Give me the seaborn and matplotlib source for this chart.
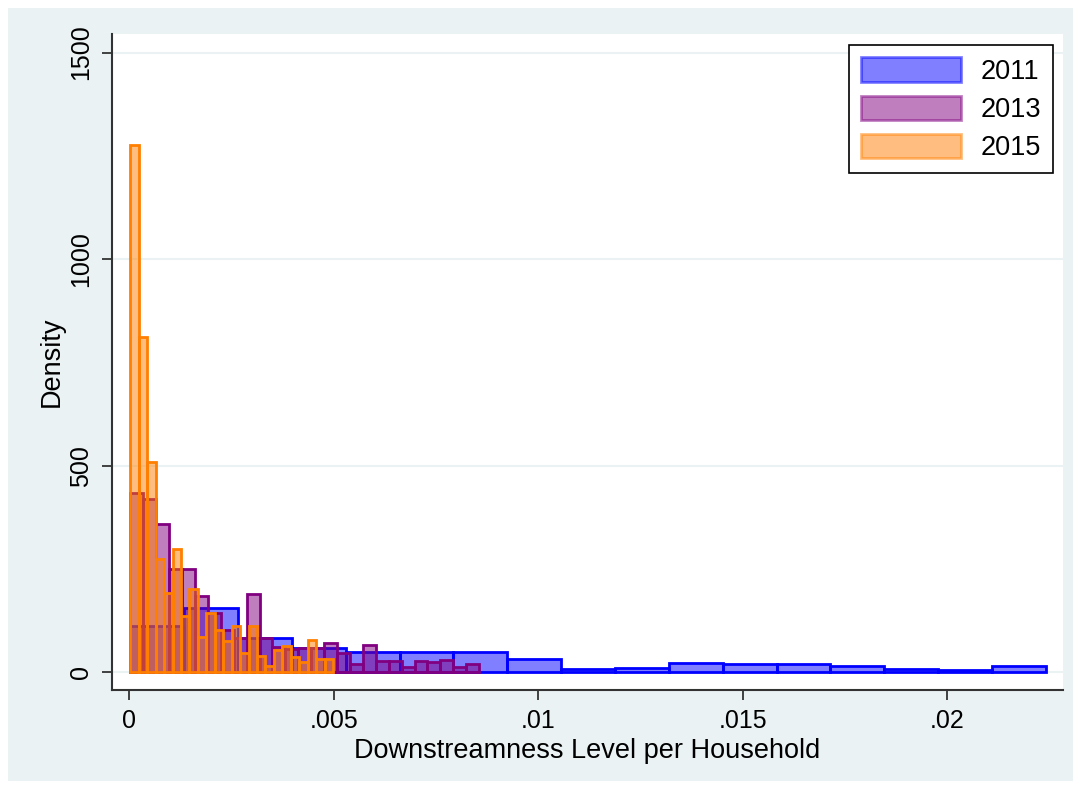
import numpy as np
import pandas as pd
import matplotlib.pyplot as plt
import seaborn as sns
from matplotlib.patches import Patch, Rectangle

# Histogram densities (Stata style, one bar per bin)
years = ["2011", "2013", "2015"]

start_2011 = 0.00002
width_2011 = 0.001317
dens_2011 = [111, 155, 83, 58, 48, 50, 49, 31, 7, 10, 22, 20, 20, 15, 8, 5, 15]

start_2013 = 0.00002
width_2013 = 0.000316
dens_2013 = [433, 419, 358, 249, 249, 184, 144, 103, 84, 189, 84, 61, 56, 58,
             58, 71, 47, 19, 67, 27, 27, 13, 27, 25, 29, 13, 21]

start_2015 = 0.00002
width_2015 = 0.0002066
dens_2015 = [1276, 812, 509, 275, 193, 298, 136, 201, 85, 144, 103, 75, 111,
             47, 111, 39, 15, 53, 64, 37, 25, 79, 31, 31]

x_ticks = [0, 0.005, 0.01, 0.015, 0.02]
x_tick_labels = ["0", ".005", ".01", ".015", ".02"]
y_ticks = [0, 500, 1000, 1500]

colors = {"2011": "#0000ff", "2013": "#800080", "2015": "#ff7f00"}

# build one table of bins
rows = []
for year, start, width, dens in [("2011", start_2011, width_2011, dens_2011),
                                 ("2013", start_2013, width_2013, dens_2013),
                                 ("2015", start_2015, width_2015, dens_2015)]:
    for i, d in enumerate(dens):
        rows.append({"year": year, "center": start + (i + 0.5) * width,
                     "density": d, "start": start, "width": width, "n": len(dens)})
df = pd.DataFrame(rows)

bg = "#eaf2f3"
fig = plt.figure(figsize=(10.81, 7.89), dpi=100, facecolor="white")
# light graph region inside a thin white border
fig.patches.append(Rectangle((8 / 1081, 8 / 789), 1065 / 1081, 773 / 789,
                             transform=fig.transFigure, facecolor=bg,
                             edgecolor="none", zorder=-10))
ax = fig.add_axes([111.5 / 1081, 1 - 690 / 789, (1063 - 111.5) / 1081, (690 - 34) / 789])
ax.set_facecolor("white")

font = ["Liberation Sans", "DejaVu Sans"]

for year in years:
    sub = df[df["year"] == year]
    start = sub["start"].iloc[0]
    width = sub["width"].iloc[0]
    edges = list(start + width * np.arange(sub["n"].iloc[0] + 1))
    sns.histplot(data=sub, x="center", weights="density", bins=edges, stat="count",
                 color=colors[year], edgecolor=colors[year], alpha=0.5,
                 linewidth=2.0, ax=ax)

ax.set_xlim(-0.00044, 0.02283)
ax.set_ylim(-43, 1545)

ax.set_yticks(y_ticks)
ax.set_yticklabels([str(t) for t in y_ticks], rotation=90, va="center",
                   fontsize=18, family=font)
ax.set_xticks(x_ticks)
ax.set_xticklabels(x_tick_labels, fontsize=18, family=font)

ax.grid(axis="y", color=bg, linewidth=1.5)
ax.set_axisbelow(True)
ax.tick_params(axis="both", direction="out", length=7.5, width=1.3, color="#333333", pad=6)

for side in ["top", "right"]:
    ax.spines[side].set_visible(False)
for side in ["left", "bottom"]:
    ax.spines[side].set_color("#333333")
    ax.spines[side].set_linewidth(1.5)

ax.set_xlabel("Downstreamness Level per Household", fontsize=19.5, family=font, labelpad=4)
ax.set_ylabel("Density", fontsize=19.5, family=font, labelpad=3)

handles = [Patch(facecolor=colors[y], edgecolor=colors[y], alpha=0.5, linewidth=2.0)
           for y in years]
leg = ax.legend(handles, years, loc="upper right", bbox_to_anchor=(0.9895, 0.983),
                prop={"family": font, "size": 19.5},
                frameon=True, fancybox=False, edgecolor="black", framealpha=1,
                handlelength=3.7, handleheight=1.0, labelspacing=0.4,
                handletextpad=0.7, borderpad=0.45, borderaxespad=0)
leg.get_frame().set_linewidth(1.2)

fig.savefig("out.png", dpi=100, facecolor="white")
